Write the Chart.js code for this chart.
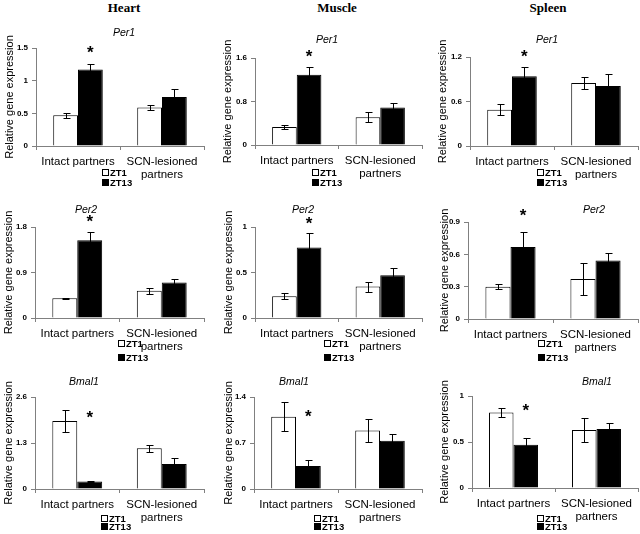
<!DOCTYPE html>
<html>
<head>
<meta charset="utf-8">
<script src="https://cdn.jsdelivr.net/npm/chart.js@4"></script>
<style>
  body { margin: 0; background: #fff; }
  #fig { position: relative; width: 640px; height: 534px; overflow: hidden; }
  #fig canvas { position: absolute; }
  .head { position: absolute; top: 0; line-height: 16px; transform: translateX(-50%);
          font: bold 13px 'Liberation Serif', 'Times New Roman', serif; }
</style>
</head>
<body>
<div id="fig"></div>
<script>
// --- data (panels row by row: Per1, Per2, Bmal1 x Heart, Muscle, Spleen) ---
const tissues = ['Heart', 'Muscle', 'Spleen'];
const genes = ['Per1', 'Per2', 'Bmal1'];
const groups = ['Intact partners', ['SCN-lesioned', 'partners']];
const seriesNames = ['ZT1', 'ZT13'];

const zt1Mean = [[0.47, 0.59], [0.33, 0.51], [0.49, 0.85],
                 [0.39, 0.54], [0.24, 0.345], [0.30, 0.37],
                 [1.92, 1.15], [1.10, 0.89], [0.82, 0.63]];
const zt1Err  = [[0.04, 0.04], [0.03, 0.09], [0.07, 0.08],
                 [0.01, 0.06], [0.035, 0.055], [0.025, 0.145],
                 [0.30, 0.10], [0.22, 0.18], [0.05, 0.13]];
const zt13Mean = [[1.17, 0.75], [1.29, 0.69], [0.94, 0.81],
                  [1.54, 0.70], [0.775, 0.47], [0.667, 0.543],
                  [0.21, 0.71], [0.35, 0.735], [0.47, 0.64]];
const zt13Err  = [[0.08, 0.13], [0.15, 0.08], [0.12, 0.16],
                  [0.16, 0.08], [0.155, 0.08], [0.14, 0.07],
                  [0.02, 0.18], [0.09, 0.10], [0.07, 0.07]];
const yMax = [1.5, 1.6, 1.2, 1.8, 1, 0.9, 2.6, 1.4, 1];
const yTicks = [[0, 0.5, 1, 1.5], [0, 0.8, 1.6], [0, 0.6, 1.2],
                [0, 0.9, 1.8], [0, 0.5, 1], [0, 0.3, 0.6, 0.9],
                [0, 1.3, 2.6], [0, 0.7, 1.4], [0, 0.5, 1]];
// significance mark level (value units), over the intact ZT13 bar
const starAt = [1.5, 1.71, 1.27, 2.0, 1.09, 1.0, 2.15, 1.17, 0.89];

// --- layout (page px) ---
const colX = [0, 213, 426], colW = [213, 213, 214];
const rowY = [0, 192, 364], rowH = [192, 172, 170];
const headX = [124, 337, 548];
// plot box: left, right, top, bottom
const plotBox = [[36, 204, 48, 146], [255, 422, 58, 145], [470, 638, 57, 146],
                 [35, 204, 227, 318], [255, 422, 227, 318], [468, 638, 222, 319],
                 [35, 204, 397, 489], [254, 422, 397, 489], [472, 638, 396, 488]];
const titlePos = [[124, 33], [327, 40], [547, 40],
                  [86, 210], [303, 210], [594, 210],
                  [84, 382], [294, 382], [597, 382]];
const yTitleX = [10, 228, 443, 9, 229, 445, 9, 229, 445];
const legendPos = [[102, 173, 10], [312, 173, 10], [537, 173, 10],
                   [118, 344, 14], [324, 344, 14], [538, 344, 14],
                   [101, 519, 8], [314, 519, 8], [537, 519, 8]];

const SANS = "'Liberation Sans', Arial, sans-serif";
const AXIS = '#808080';

const fig = document.getElementById('fig');
tissues.forEach((t, c) => {
  const d = document.createElement('div');
  d.className = 'head';
  d.style.left = headX[c] + 'px';
  d.textContent = t;
  fig.appendChild(d);
});

const decor = {
  id: 'decor',
  afterDatasetsDraw(chart, args, o) {
    const ctx = chart.ctx, ys = chart.scales.y;
    ctx.save();
    ctx.strokeStyle = '#000';
    ctx.lineWidth = 1;
    o.errors.forEach((errs, di) => {
      chart.getDatasetMeta(di).data.forEach((bar, j) => {
        const v = chart.data.datasets[di].data[j], e = errs[j];
        const x = Math.round(bar.x) + 0.5;
        const y1 = Math.round(ys.getPixelForValue(v + e)) + 0.5;
        const y2 = Math.round(ys.getPixelForValue(v - e)) + 0.5;
        ctx.beginPath();
        ctx.moveTo(x, y1); ctx.lineTo(x, y2);
        ctx.moveTo(x - 3, y1); ctx.lineTo(x + 4, y1);
        ctx.moveTo(x - 3, y2); ctx.lineTo(x + 4, y2);
        ctx.stroke();
      });
    });
    ctx.restore();
  },
  afterDraw(chart, args, o) {
    const ctx = chart.ctx, ys = chart.scales.y;
    ctx.save();
    ctx.fillStyle = '#000';
    // gene title
    ctx.font = 'italic 10.5px ' + SANS;
    ctx.textAlign = 'center';
    ctx.textBaseline = 'middle';
    ctx.fillText(o.title, o.titleX, o.titleY);
    // asterisk
    const sx = chart.getDatasetMeta(1).data[0].x;
    ctx.font = 'bold 17px ' + SANS;
    ctx.textBaseline = 'alphabetic';
    ctx.fillText('*', sx, ys.getPixelForValue(o.star) + 10);
    // legend
    ctx.font = 'bold 9.5px ' + SANS;
    ctx.textAlign = 'left';
    ctx.textBaseline = 'middle';
    seriesNames.forEach((n, i) => {
      const ly = Math.round(o.legY + i * o.legGap);
      ctx.fillStyle = i ? '#000' : '#fff';
      ctx.fillRect(o.legX + 0.5, ly - 3.5, 6, 6);
      ctx.strokeStyle = '#000';
      ctx.strokeRect(o.legX + 0.5, ly - 3.5, 6, 6);
      ctx.fillStyle = '#000';
      ctx.fillText(n, o.legX + 8, ly + 0.5);
    });
    ctx.restore();
  }
};

genes.forEach((g, r) => {
  tissues.forEach((t, c) => {
    const k = r * 3 + c;
    const cv = document.createElement('canvas');
    cv.width = colW[c];
    cv.height = rowH[r];
    cv.style.left = colX[c] + 'px';
    cv.style.top = rowY[r] + 'px';
    fig.appendChild(cv);

    const [pl, pr, pt, pb] = plotBox[k];
    const L = pl - colX[c], R = colW[c] - (pr - colX[c]);
    const T = pt - rowY[r], B = rowH[r] - (pb - rowY[r]);

    new Chart(cv, {
      type: 'bar',
      data: {
        labels: groups,
        datasets: [
          { label: 'ZT1', data: zt1Mean[k], backgroundColor: '#fff',
            borderColor: '#000', borderWidth: 1 },
          { label: 'ZT13', data: zt13Mean[k], backgroundColor: '#000',
            borderColor: '#000', borderWidth: 1 }
        ]
      },
      options: {
        responsive: false,
        animation: false,
        devicePixelRatio: 1,
        events: [],
        layout: { padding: { top: T, right: R, left: 0, bottom: 0 } },
        datasets: { bar: { categoryPercentage: 0.59, barPercentage: 1 } },
        plugins: {
          legend: { display: false },
          tooltip: { enabled: false },
          decor: {
            errors: [zt1Err[k], zt13Err[k]],
            title: g,
            titleX: titlePos[k][0] - colX[c],
            titleY: titlePos[k][1] - rowY[r],
            star: starAt[k],
            legX: legendPos[k][0] - colX[c],
            legY: legendPos[k][1] - rowY[r],
            legGap: legendPos[k][2]
          }
        },
        scales: {
          x: {
            afterFit: s => { s.height = B; },
            border: { color: AXIS },
            grid: { drawOnChartArea: false, tickLength: 4, color: AXIS },
            ticks: { color: '#000', padding: 6, maxRotation: 0, minRotation: 0, autoSkip: false,
                     font: { family: SANS, size: 11.5, lineHeight: 1.1 } }
          },
          y: {
            min: 0,
            max: yMax[k],
            afterFit: s => { s.width = L; },
            afterBuildTicks: s => { s.ticks = yTicks[k].map(v => ({ value: v })); },
            border: { color: AXIS },
            grid: { drawOnChartArea: false, tickLength: 4, color: AXIS },
            ticks: { color: '#000', padding: 4, callback: v => String(v),
                     font: { family: SANS, size: 8, weight: 'bold' } },
            title: {
              display: true,
              text: 'Relative gene expression',
              color: '#000',
              padding: { top: yTitleX[k] - colX[c] - 6.6, bottom: 0 },
              font: { family: SANS, size: 11 }
            }
          }
        }
      },
      plugins: [decor]
    });
  });
});
</script>
</body>
</html>
